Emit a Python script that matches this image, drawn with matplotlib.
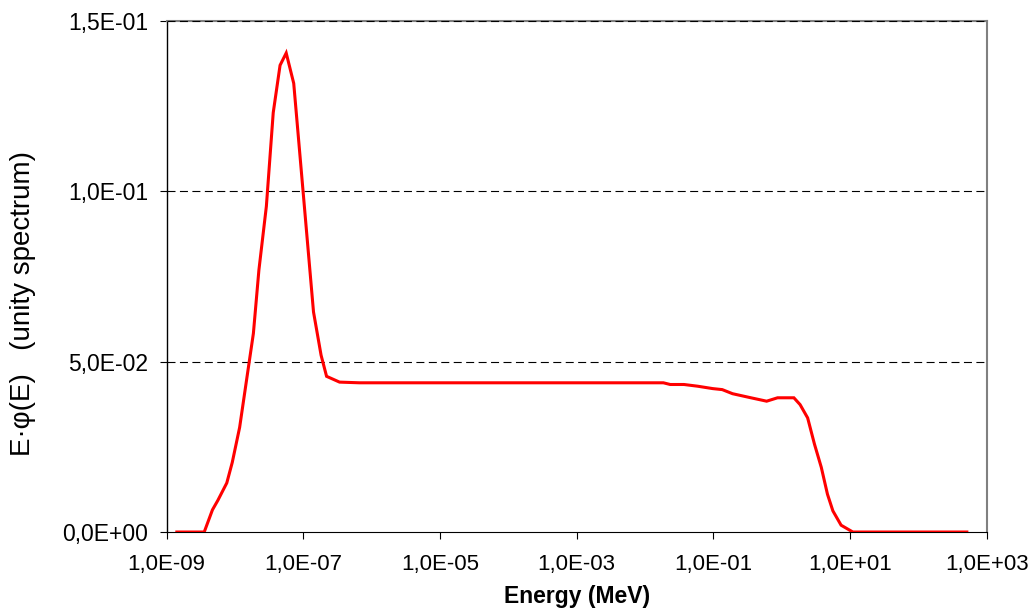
import matplotlib
matplotlib.use("Agg")
import matplotlib.pyplot as plt
from matplotlib.ticker import FixedLocator, FixedFormatter

plt.rcParams['font.family'] = ['Liberation Sans', 'DejaVu Sans']

# Neutron spectrum, lethargy representation E*phi(E), normalised to unity
energy_mev = [1.41e-9, 3.55e-9, 4.68e-9, 5.62e-9, 7.59e-9, 9.12e-9, 1.17e-8,
              1.45e-8, 1.86e-8, 2.24e-8, 2.88e-8, 3.63e-8, 4.57e-8, 5.62e-8,
              7.24e-8, 1.41e-7, 1.82e-7, 2.19e-7, 3.39e-7, 6.61e-7, 1.0e-5,
              1.0e-3, 1.86e-2, 2.34e-2, 3.72e-2, 5.89e-2, 9.77e-2, 0.135,
              0.191, 0.355, 0.603, 0.871, 1.51, 1.86, 2.40, 3.02, 3.80, 4.68,
              5.62, 7.41, 11.0, 513.0]
e_phi = [0.0, 0.0, 0.0065, 0.0093, 0.0144, 0.0204, 0.0307,
         0.0435, 0.0583, 0.0769, 0.0956, 0.1231, 0.1370, 0.1406,
         0.1317, 0.0646, 0.0519, 0.0457, 0.0440, 0.0438, 0.0438,
         0.0438, 0.0438, 0.0433, 0.0433, 0.0428, 0.0421, 0.0418,
         0.0406, 0.0394, 0.0384, 0.0394, 0.0394, 0.0374, 0.0335, 0.0258,
         0.0190, 0.0111, 0.0062, 0.0020, 0.0, 0.0]

x_ticks = [1e-9, 1e-7, 1e-5, 1e-3, 1e-1, 1e1, 1e3]
x_tick_labels = ["1,0E-09", "1,0E-07", "1,0E-05", "1,0E-03", "1,0E-01",
                 "1,0E+01", "1,0E+03"]
y_ticks = [0.0, 0.05, 0.10, 0.15]
y_tick_labels = ["0,0E+00", "5,0E-02", "1,0E-01", "1,5E-01"]

fig = plt.figure(figsize=(10.35, 6.12), dpi=100)
ax = fig.add_axes([0.161, 0.1307, 0.7923, 0.835])

ax.set_xscale('log')
ax.set_xlim(1e-9, 1e3)
ax.set_ylim(0, 0.15)

# dashed horizontal gridlines
for yv in y_ticks[1:]:
    ax.axhline(yv, color='black', lw=0.8, dashes=(7.2, 4.0), zorder=3,
               clip_on=False)

ax.plot(energy_mev, e_phi, color='#ff0000', lw=2.2, zorder=4,
        solid_joinstyle='miter')

ax.xaxis.set_major_locator(FixedLocator(x_ticks))
ax.xaxis.set_major_formatter(FixedFormatter(x_tick_labels))
ax.xaxis.set_minor_locator(FixedLocator([]))
ax.yaxis.set_major_locator(FixedLocator(y_ticks))
ax.yaxis.set_major_formatter(FixedFormatter(y_tick_labels))

ax.tick_params(axis='x', direction='out', length=5, width=0.8,
               labelsize=16, pad=11, colors='black')
ax.tick_params(axis='y', direction='out', length=5, width=0.8,
               labelsize=16.5, pad=8.5, colors='black')

ax.spines['left'].set_color('black')
ax.spines['left'].set_linewidth(1.0)
ax.spines['bottom'].set_color('black')
ax.spines['bottom'].set_linewidth(0.8)
ax.spines['right'].set_color('#808080')
ax.spines['right'].set_linewidth(1.5)
ax.spines['top'].set_color('#808080')
ax.spines['top'].set_linewidth(1.5)

fig.text(0.5572, 0.0147, "Energy (MeV)", ha='center', va='baseline',
         fontsize=16.5, fontweight='bold')
fig.text(0.0227, 0.504, "E·φ(E)   (unity spectrum)", ha='center',
         va='center', rotation=90, fontsize=20)

fig.savefig("out.png", dpi=100, facecolor='white')
